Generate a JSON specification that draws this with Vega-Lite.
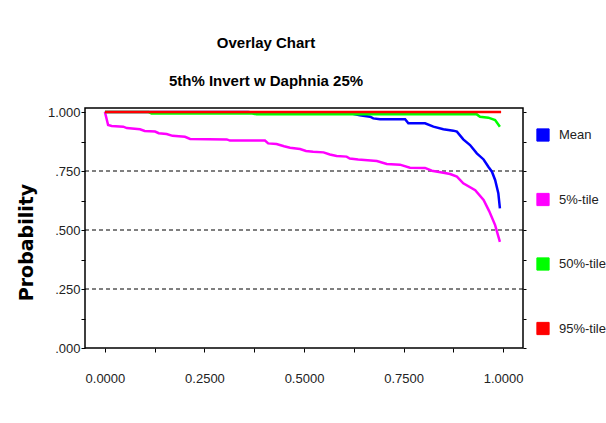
{
  "$schema": "https://vega.github.io/schema/vega-lite/v6.json",
  "width": 438,
  "height": 240,
  "autosize": "none",
  "padding": {"left": 85, "top": 108, "right": 83, "bottom": 75},
  "background": "white",
  "config": {
    "view": {"stroke": "black", "strokeWidth": 1.5},
    "font": "Liberation Sans"
  },
  "title": {
    "text": "Overlay Chart",
    "subtitle": "5th% Invert w Daphnia 25%",
    "font": "Liberation Sans",
    "fontSize": 15,
    "fontWeight": "bold",
    "color": "black",
    "subtitleFont": "Liberation Sans",
    "subtitleFontSize": 15,
    "subtitleFontWeight": "bold",
    "subtitleColor": "black",
    "anchor": "middle",
    "frame": "group",
    "dx": -38,
    "offset": 17,
    "subtitlePadding": 23
  },
  "datasets": {
    "curves": [
      {"series": "Mean", "x": 0, "p": 1.0},
      {"series": "Mean", "x": 0.36, "p": 1.0},
      {"series": "Mean", "x": 0.38, "p": 0.996},
      {"series": "Mean", "x": 0.62, "p": 0.994},
      {"series": "Mean", "x": 0.64, "p": 0.986},
      {"series": "Mean", "x": 0.666, "p": 0.98},
      {"series": "Mean", "x": 0.674, "p": 0.973},
      {"series": "Mean", "x": 0.691, "p": 0.969},
      {"series": "Mean", "x": 0.754, "p": 0.969},
      {"series": "Mean", "x": 0.762, "p": 0.952},
      {"series": "Mean", "x": 0.804, "p": 0.952},
      {"series": "Mean", "x": 0.825, "p": 0.938},
      {"series": "Mean", "x": 0.85, "p": 0.927},
      {"series": "Mean", "x": 0.875, "p": 0.921},
      {"series": "Mean", "x": 0.884, "p": 0.917},
      {"series": "Mean", "x": 0.9, "p": 0.884},
      {"series": "Mean", "x": 0.917, "p": 0.86},
      {"series": "Mean", "x": 0.934, "p": 0.825},
      {"series": "Mean", "x": 0.951, "p": 0.799},
      {"series": "Mean", "x": 0.963, "p": 0.768},
      {"series": "Mean", "x": 0.972, "p": 0.747},
      {"series": "Mean", "x": 0.98, "p": 0.712},
      {"series": "Mean", "x": 0.988, "p": 0.656},
      {"series": "Mean", "x": 0.992, "p": 0.592},
      {"series": "5%-tile", "x": 0, "p": 1.0},
      {"series": "5%-tile", "x": 0.008, "p": 0.945},
      {"series": "5%-tile", "x": 0.017, "p": 0.941},
      {"series": "5%-tile", "x": 0.046, "p": 0.938},
      {"series": "5%-tile", "x": 0.055, "p": 0.932},
      {"series": "5%-tile", "x": 0.088, "p": 0.927},
      {"series": "5%-tile", "x": 0.1, "p": 0.92},
      {"series": "5%-tile", "x": 0.126, "p": 0.917},
      {"series": "5%-tile", "x": 0.135, "p": 0.91},
      {"series": "5%-tile", "x": 0.155, "p": 0.907},
      {"series": "5%-tile", "x": 0.17, "p": 0.899},
      {"series": "5%-tile", "x": 0.201, "p": 0.895},
      {"series": "5%-tile", "x": 0.214, "p": 0.886},
      {"series": "5%-tile", "x": 0.306, "p": 0.884},
      {"series": "5%-tile", "x": 0.314, "p": 0.879},
      {"series": "5%-tile", "x": 0.402, "p": 0.879},
      {"series": "5%-tile", "x": 0.41, "p": 0.867},
      {"series": "5%-tile", "x": 0.431, "p": 0.864},
      {"series": "5%-tile", "x": 0.45, "p": 0.855},
      {"series": "5%-tile", "x": 0.465, "p": 0.849},
      {"series": "5%-tile", "x": 0.49, "p": 0.843},
      {"series": "5%-tile", "x": 0.505, "p": 0.835},
      {"series": "5%-tile", "x": 0.523, "p": 0.832},
      {"series": "5%-tile", "x": 0.549, "p": 0.829},
      {"series": "5%-tile", "x": 0.565, "p": 0.82},
      {"series": "5%-tile", "x": 0.582, "p": 0.814},
      {"series": "5%-tile", "x": 0.607, "p": 0.811},
      {"series": "5%-tile", "x": 0.615, "p": 0.803},
      {"series": "5%-tile", "x": 0.636, "p": 0.799},
      {"series": "5%-tile", "x": 0.683, "p": 0.792},
      {"series": "5%-tile", "x": 0.708, "p": 0.78},
      {"series": "5%-tile", "x": 0.741, "p": 0.777},
      {"series": "5%-tile", "x": 0.766, "p": 0.764},
      {"series": "5%-tile", "x": 0.804, "p": 0.763},
      {"series": "5%-tile", "x": 0.821, "p": 0.751},
      {"series": "5%-tile", "x": 0.85, "p": 0.743},
      {"series": "5%-tile", "x": 0.867, "p": 0.737},
      {"series": "5%-tile", "x": 0.884, "p": 0.726},
      {"series": "5%-tile", "x": 0.9, "p": 0.698},
      {"series": "5%-tile", "x": 0.93, "p": 0.669},
      {"series": "5%-tile", "x": 0.951, "p": 0.627},
      {"series": "5%-tile", "x": 0.965, "p": 0.58},
      {"series": "5%-tile", "x": 0.98, "p": 0.521},
      {"series": "5%-tile", "x": 0.992, "p": 0.45},
      {"series": "50%-tile", "x": 0, "p": 1.0},
      {"series": "50%-tile", "x": 0.11, "p": 1.0},
      {"series": "50%-tile", "x": 0.117, "p": 0.994},
      {"series": "50%-tile", "x": 0.37, "p": 0.994},
      {"series": "50%-tile", "x": 0.381, "p": 0.99},
      {"series": "50%-tile", "x": 0.934, "p": 0.99},
      {"series": "50%-tile", "x": 0.942, "p": 0.98},
      {"series": "50%-tile", "x": 0.963, "p": 0.976},
      {"series": "50%-tile", "x": 0.98, "p": 0.966},
      {"series": "50%-tile", "x": 0.992, "p": 0.938},
      {"series": "95%-tile", "x": 0, "p": 1.0},
      {"series": "95%-tile", "x": 0.5, "p": 1.0},
      {"series": "95%-tile", "x": 0.995, "p": 1.0}
    ],
    "grid": [
      {"p": 0.25},
      {"p": 0.5},
      {"p": 0.75}
    ]
  },
  "layer": [
    {
      "data": {"name": "grid"},
      "mark": {"type": "rule", "color": "black", "strokeWidth": 1, "strokeDash": [4, 3]},
      "encoding": {
        "y": {
          "field": "p",
          "type": "quantitative",
          "scale": {"domain": [0, 1.017], "nice": false, "zero": false},
          "axis": {
            "orient": "left",
            "values": [0, 0.125, 0.25, 0.375, 0.5, 0.625, 0.75, 0.875, 1.0],
            "labelExpr": "(datum.value * 4) % 1 == 0 ? replace(format(datum.value, '.3f'), '0.', '.') : ''",
            "labelFont": "Liberation Sans",
            "labelFontSize": 13,
            "labelColor": "#222",
            "labelPadding": 1,
            "labelOverlap": false,
            "tickSize": 4,
            "tickColor": "black",
            "domain": false,
            "grid": false,
            "title": "Probability",
            "titleFont": "DejaVu Sans",
            "titleFontSize": 19,
            "titleFontWeight": "bold",
            "titleColor": "black",
            "titleAngle": -90,
            "titleAlign": "center",
            "titleBaseline": "middle",
            "titleX": -59,
            "titleY": 134
          }
        }
      }
    },
    {
      "data": {"name": "curves"},
      "mark": {"type": "point", "shape": "square", "filled": true, "stroke": "black", "strokeWidth": 1, "opacity": 0, "size": 150},
      "encoding": {
        "x": {
          "field": "x",
          "type": "quantitative",
          "scale": {"domain": [-0.05, 1.05], "nice": false, "zero": false},
          "axis": {
            "values": [0, 0.125, 0.25, 0.375, 0.5, 0.625, 0.75, 0.875, 1.0],
            "labelExpr": "(datum.value * 4) % 1 == 0 ? format(datum.value, '.4f') : ''",
            "labelFont": "Liberation Sans",
            "labelFontSize": 13,
            "labelColor": "#222",
            "labelPadding": 20,
            "labelOverlap": false,
            "tickSize": 4,
            "tickColor": "black",
            "domain": false,
            "grid": false,
            "title": null
          }
        },
        "y": {
          "field": "p",
          "type": "quantitative",
          "scale": {"domain": [0, 1.017], "nice": false, "zero": false},
          "axis": null
        },
        "color": {
          "field": "series",
          "type": "nominal",
          "scale": {
            "domain": ["Mean", "5%-tile", "50%-tile", "95%-tile"],
            "range": ["#0000ff", "#ff00ff", "#00ff00", "#ff0000"]
          },
          "legend": {
            "orient": "none",
            "legendX": 451,
            "legendY": 20,
            "title": null,
            "padding": 0,
            "symbolType": "square",
            "symbolSize": 150,
            "symbolStrokeWidth": 1,
            "symbolStrokeColor": "black",
            "symbolOpacity": 1,
            "rowPadding": 46.5,
            "labelFont": "Liberation Sans",
            "labelFontSize": 13,
            "labelColor": "#222",
            "labelOffset": 9
          }
        }
      }
    },
    {
      "data": {"name": "curves"},
      "mark": {"type": "line", "strokeWidth": 2.5, "clip": false},
      "encoding": {
        "x": {
          "field": "x",
          "type": "quantitative",
          "scale": {"domain": [-0.05, 1.05], "nice": false, "zero": false}
        },
        "y": {
          "field": "p",
          "type": "quantitative",
          "scale": {"domain": [0, 1.017], "nice": false, "zero": false},
          "axis": {
            "orient": "right",
            "values": [0, 0.125, 0.25, 0.375, 0.5, 0.625, 0.75, 0.875, 1.0],
            "labels": false,
            "tickSize": 3,
            "tickColor": "black",
            "domain": false,
            "grid": false,
            "title": null
          }
        },
        "color": {
          "field": "series",
          "type": "nominal",
          "scale": {
            "domain": ["Mean", "5%-tile", "50%-tile", "95%-tile"],
            "range": ["#0000ff", "#ff00ff", "#00ff00", "#ff0000"]
          },
          "legend": null
        }
      }
    }
  ],
  "resolve": {"axis": {"y": "independent"}}
}
